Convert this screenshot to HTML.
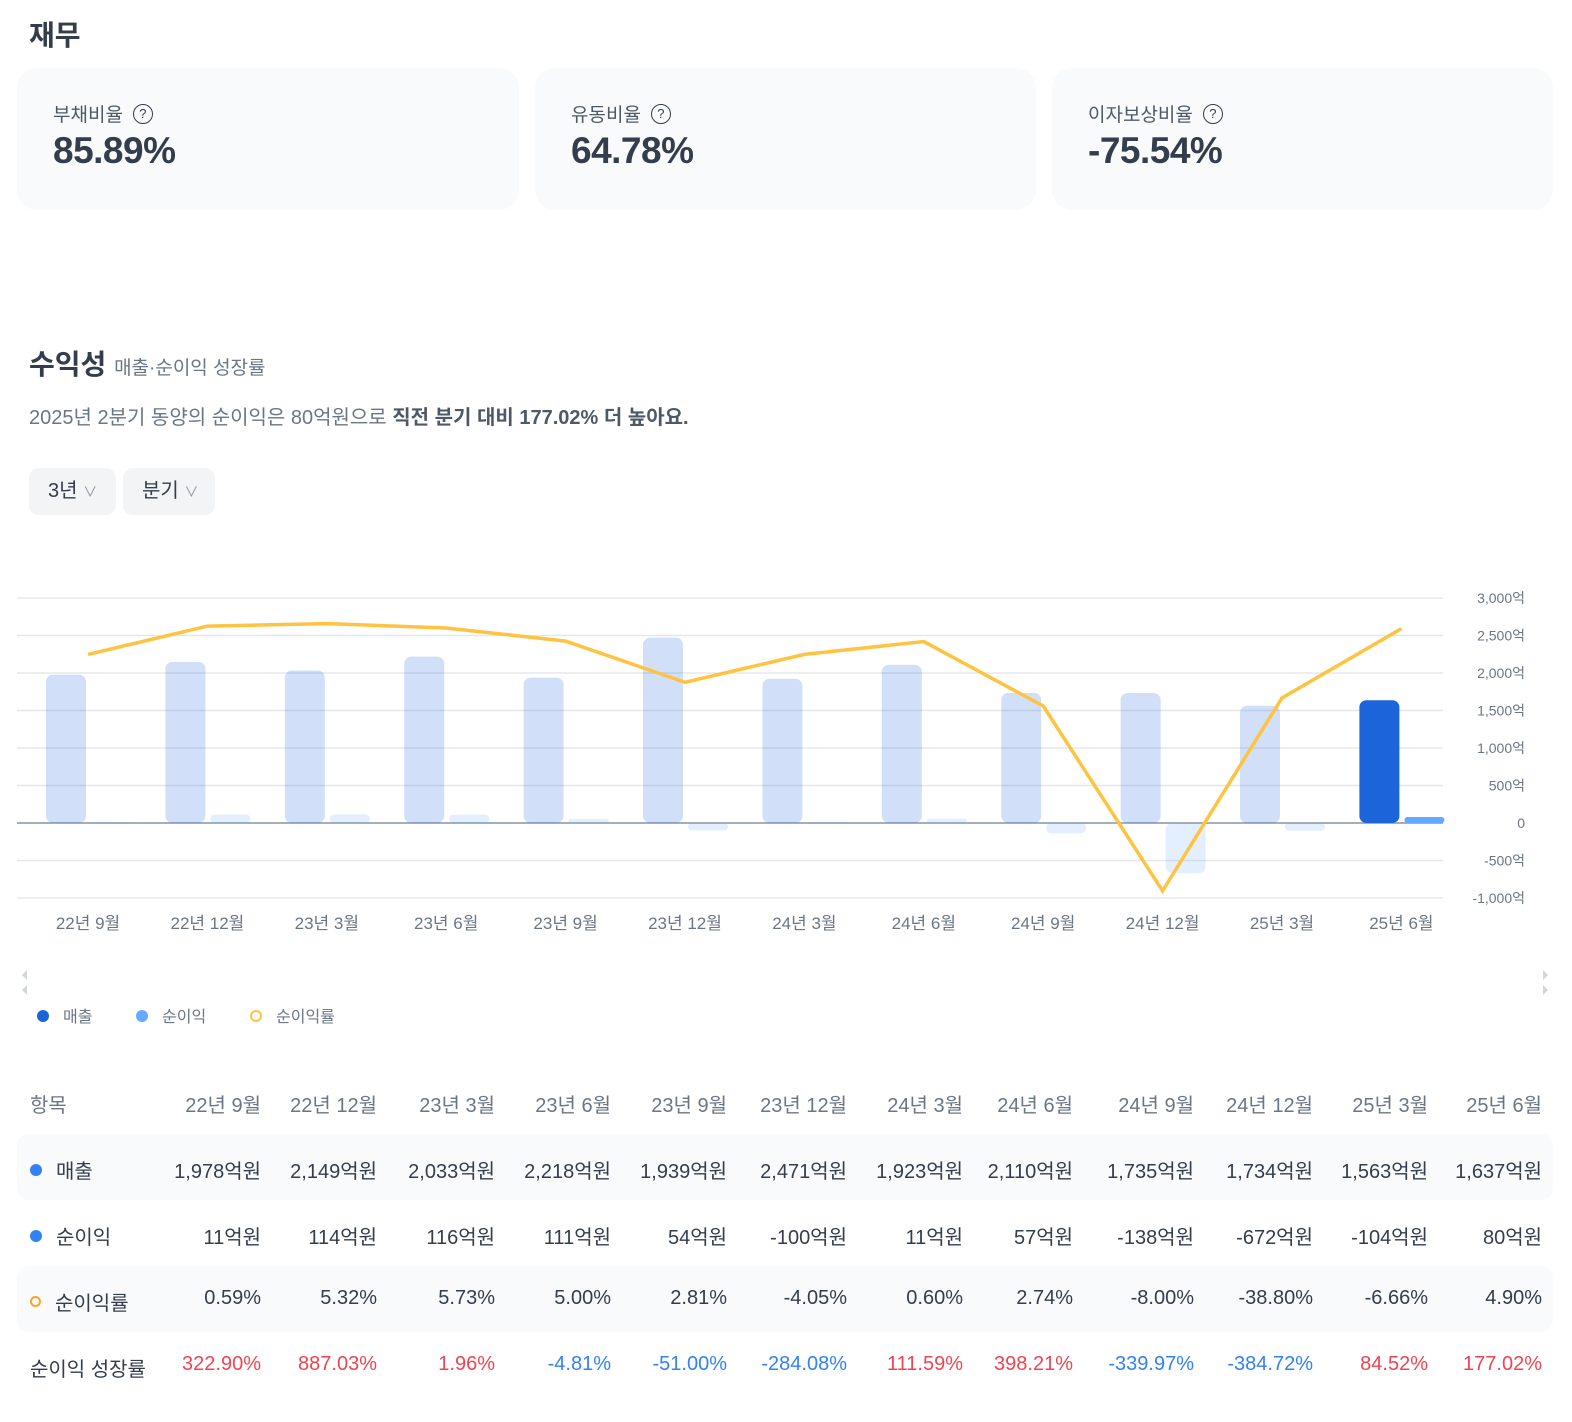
<!DOCTYPE html>
<html><head><meta charset="utf-8">
<style>
body{margin:0;width:1572px;height:1422px;background:#fff;font-family:"Liberation Sans","Noto Sans CJK KR",sans-serif;color:#333d4b;position:relative;overflow:hidden}
.abs{position:absolute}
.card{position:absolute;top:68px;height:142px;background:#f9fafb;border-radius:20px}
.card .lab{position:absolute;left:36px;top:32px;font-size:19px;color:#4e5968;display:flex;align-items:center}
.q{display:inline-block;width:18px;height:18px;border:1.6px solid #333d4b;border-radius:50%;font-size:13px;text-align:center;line-height:18px;margin-left:10px;color:#333d4b}
.card .val{position:absolute;left:36px;top:62px;font-size:37px;font-weight:bold;color:#333d4b;letter-spacing:-0.5px}
.btn{position:absolute;top:468px;height:47px;background:#f2f4f6;border-radius:10px;font-size:20px;color:#333d4b;line-height:47px;padding-left:19px;box-sizing:border-box}
.row{position:absolute;left:17px;width:1536px;height:66px;border-radius:12px}
.cell{position:absolute;font-size:20px;text-align:right;width:115px;color:#333d4b}
</style></head><body>
<div class="abs" style="left:29px;top:14px;font-size:28px;font-weight:bold">재무</div>
<div class="card" style="left:17px;width:502px"><div class="lab">부채비율<span class="q">?</span></div><div class="val">85.89%</div></div>
<div class="card" style="left:535px;width:501px"><div class="lab">유동비율<span class="q">?</span></div><div class="val">64.78%</div></div>
<div class="card" style="left:1052px;width:501px"><div class="lab">이자보상비율<span class="q">?</span></div><div class="val">-75.54%</div></div>

<div class="abs" style="left:29px;top:343px;font-size:28px;font-weight:bold">수익성 <span style="font-size:19px;font-weight:normal;color:#6b7684">매출·순이익 성장률</span></div>
<div class="abs" style="left:29px;top:401px;font-size:20px;color:#6b7684">2025년 2분기 동양의 순이익은 80억원으로 <b style="color:#4e5968">직전 분기 대비 177.02% 더 높아요.</b></div>
<div class="btn" style="left:29px;width:87px">3년 <span style="font-size:14px;color:#8b95a1">∨</span></div>
<div class="btn" style="left:123px;width:92px">분기 <span style="font-size:14px;color:#8b95a1">∨</span></div>

<svg id="chart" class="abs" style="left:0;top:0" width="1572" height="1000"></svg>

<div class="abs" style="left:37px;top:1003px;font-size:16px;color:#6b7684">
<span class="abs" style="left:0;top:0;white-space:nowrap"><span style="display:inline-block;width:12px;height:12px;border-radius:50%;background:#1b64da;margin-right:14px"></span>매출</span>
<span class="abs" style="left:99px;top:0;white-space:nowrap"><span style="display:inline-block;width:12px;height:12px;border-radius:50%;background:#64a8ff;margin-right:14px"></span>순이익</span>
<span class="abs" style="left:213px;top:0;white-space:nowrap"><span style="display:inline-block;width:8px;height:8px;border-radius:50%;border:2.5px solid #ffc342;margin-right:14px"></span>순이익률</span>
</div>

<div class="row" style="top:1134px;background:#f9fafb"></div>
<div class="row" style="top:1266px;background:#f9fafb"></div>
<div id="table"></div>

<script>
const categories=["22년 9월","22년 12월","23년 3월","23년 6월","23년 9월","23년 12월","24년 3월","24년 6월","24년 9월","24년 12월","25년 3월","25년 6월"];
const revenue=[1978,2149,2033,2218,1939,2471,1923,2110,1735,1734,1563,1637];
const netIncome=[11,114,116,111,54,-100,11,57,-138,-672,-104,80];
const netMargin=[0.59,5.32,5.73,5.00,2.81,-4.05,0.60,2.74,-8.00,-38.80,-6.66,4.90];
const growth=[322.90,887.03,1.96,-4.81,-51.00,-284.08,111.59,398.21,-339.97,-384.72,84.52,177.02];
const yTicks=[3000,2500,2000,1500,1000,500,0,-500,-1000];
const yTickLabels=["3,000억","2,500억","2,000억","1,500억","1,000억","500억","0","-500억","-1,000억"];

const NS="http://www.w3.org/2000/svg";
const svg=document.getElementById('chart');
const y=v=>823-v*0.075;
const ym=m=>898-(m+40)*6;
const xc=i=>88+i*119.4;
function mk(t,a){const e=document.createElementNS(NS,t);for(const k in a)e.setAttribute(k,a[k]);svg.appendChild(e);return e;}
yTicks.forEach((t,i)=>{
  const l=mk('line',{x1:17,x2:1443,y1:y(t),y2:y(t),stroke:t===0?'#a5afbb':'#e5e8eb','stroke-width':t===0?2:1.5});
  
  
  const tx=mk('text',{x:1525,y:y(t)+5,'text-anchor':'end','font-size':14,fill:'#6b7684'});
  tx.textContent=yTickLabels[i];
  
  
});
function rbar(x,v,w,fill){
  const top=Math.min(y(v),y(0)),h=Math.max(Math.abs(y(v)-y(0)),1);
  return mk('rect',{x:x,y:top,width:w,height:h,rx:Math.min(7,h/2),fill:fill});
}
categories.forEach((c,i)=>{
  const last=i===categories.length-1;
  const b=rbar(xc(i)-42,revenue[i],40,last?'#1b64da':'rgba(27,100,218,0.2)');
  
  
  const n=rbar(xc(i)+3,netIncome[i],40,last?'#64a8ff':'rgba(100,168,255,0.18)');
  
  
  const tx=mk('text',{x:xc(i),y:929,'text-anchor':'middle','font-size':17,fill:'#6b7684'});
  tx.textContent=c;
  
  
});
const pl=mk('polyline',{points:netMargin.map((m,i)=>xc(i)+','+ym(m)).join(' '),fill:'none',stroke:'#ffc342','stroke-width':3.5,'stroke-linejoin':'miter'});


[[22,975],[22,990],[1546,975],[1546,990]].forEach(p=>{
  const left=p[0]<100;
  const t=mk('polygon',{points:left?`${p[0]+5},${p[1]-5} ${p[0]+5},${p[1]+5} ${p[0]},${p[1]}`:`${p[0]-3},${p[1]-5} ${p[0]-3},${p[1]+5} ${p[0]+2},${p[1]}`,fill:'#d1d6db'});
  
  
});

const tbl=document.getElementById('table');
const colRight=[261,377,495,611,727,847,963,1073,1194,1313,1428,1542];
const fmt=v=>v.toLocaleString('en-US');
function cell(txt,right,top,color,name){
  const d=document.createElement('div');
  d.className='cell';
  d.style.left=(right-115)+'px';d.style.top=top+'px';
  if(color)d.style.color=color;
  d.textContent=txt;
  
  
  tbl.appendChild(d);
}
function label(html,top,name){
  const d=document.createElement('div');
  d.className='abs';d.style.left='30px';d.style.top=top+'px';d.style.fontSize='20px';
  d.innerHTML=html;
  
  
  tbl.appendChild(d);
}
const dot=c=>`<span style="display:inline-block;width:12px;height:12px;border-radius:50%;background:${c};margin-right:14px;vertical-align:2px"></span>`;
label('<span style="color:#6b7684">항목</span>',1089,'header-label');
label(dot('#3182f6')+'매출',1155,'revenue-label');
label(dot('#3182f6')+'순이익',1221,'net-income-label');
label('<span style="display:inline-block;width:7px;height:7px;border-radius:50%;border:2.5px solid #ffa41b;margin-right:14px;vertical-align:3px"></span>순이익률',1287,'net-margin-label');
label('순이익 성장률',1353,'growth-label');
categories.forEach((c,i)=>{
  const r=colRight[i];
  cell(c,r,1089,'#6b7684','header-cell');
  cell(fmt(revenue[i])+'억원',r,1155,null,'revenue-cell');
  cell(fmt(netIncome[i])+'억원',r,1221,null,'net-income-cell');
  cell(netMargin[i].toFixed(2)+'%',r,1287,null,'net-margin-cell');
  cell(growth[i].toFixed(2)+'%',r,1353,growth[i]>=0?'#f04452':'#3182f6','growth-cell');
});
</script>
</body></html>
